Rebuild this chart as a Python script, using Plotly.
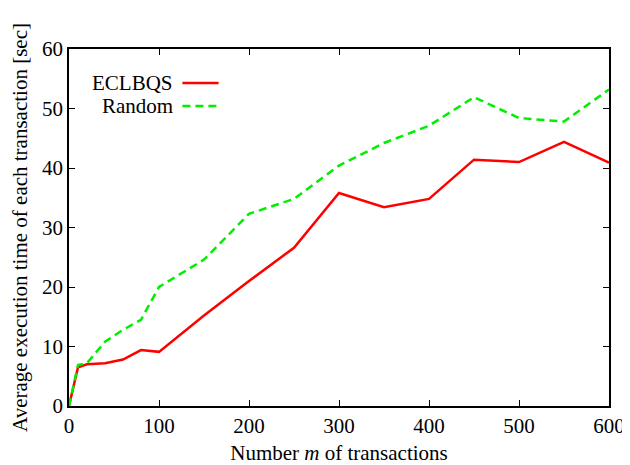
import plotly.graph_objects as go

x_vals = [0, 10, 20, 40, 60, 80, 100, 150, 200, 250, 300, 350, 400, 450, 500, 550, 600]
eclbqs = [0.0, 6.5, 7.0, 7.2, 7.8, 9.4, 9.1, 15.2, 21.0, 26.6, 35.8, 33.4, 34.8, 41.4, 41.0, 44.4, 40.9]
random_vals = [0.0, 6.9, 7.2, 10.8, 12.8, 14.5, 20.0, 24.6, 32.3, 34.8, 40.4, 44.2, 47.1, 51.9, 48.4, 47.8, 53.2]

series_names = ["ECLBQS", "Random"]
x_ticks = [0, 100, 200, 300, 400, 500, 600]
y_ticks = [0, 10, 20, 30, 40, 50, 60]

FONT = "Liberation Serif, Times New Roman, serif"
FS = 21

fig = go.Figure()
fig.add_trace(go.Scatter(x=x_vals, y=eclbqs, mode="lines", name=series_names[0],
                         line=dict(color="#ff0000", width=2.5), showlegend=False))
fig.add_trace(go.Scatter(x=x_vals, y=random_vals, mode="lines", name=series_names[1],
                         line=dict(color="#00ee00", width=2.5, dash="8px,5px"), showlegend=False))

# legend (text left of line sample, as in the reference)
legend_rows = [(series_names[0], 0.905, dict(color="#ff0000", width=2.5)),
               (series_names[1], 0.840, dict(color="#00ee00", width=2.5, dash="8px,5px"))]
for name, yy, ln in legend_rows:
    fig.add_annotation(xref="paper", yref="paper", x=0.197, y=yy, text=name,
                       showarrow=False, xanchor="right", yanchor="middle",
                       font=dict(family=FONT, size=FS, color="black"))
    fig.add_shape(type="line", xref="paper", yref="paper", x0=0.21, x1=0.277,
                  y0=yy, y1=yy, line=ln)

axis_common = dict(showline=True, linecolor="black", linewidth=1.5, mirror="ticks",
                   ticks="inside", ticklen=6, tickwidth=1, tickcolor="black",
                   showgrid=False, zeroline=False,
                   tickfont=dict(family=FONT, size=FS, color="black"))

fig.update_xaxes(range=[0, 600], tickvals=x_ticks, ticktext=[str(v) for v in x_ticks],
                 title=dict(text="Number <i>m</i> of transactions", standoff=10,
                            font=dict(family=FONT, size=FS, color="black")),
                 **axis_common)
fig.update_yaxes(range=[0, 60], tickvals=y_ticks, ticktext=[str(v) for v in y_ticks],
                 title=dict(text="Average execution time of each transaction [sec]", standoff=11,
                            font=dict(family=FONT, size=FS, color="black")),
                 **axis_common)

fig.update_layout(width=622, height=457, plot_bgcolor="white", paper_bgcolor="white",
                  margin=dict(l=61, r=21, t=41, b=59, autoexpand=False),
                  font=dict(family=FONT, size=FS, color="black"))

fig.write_html("out.html")
